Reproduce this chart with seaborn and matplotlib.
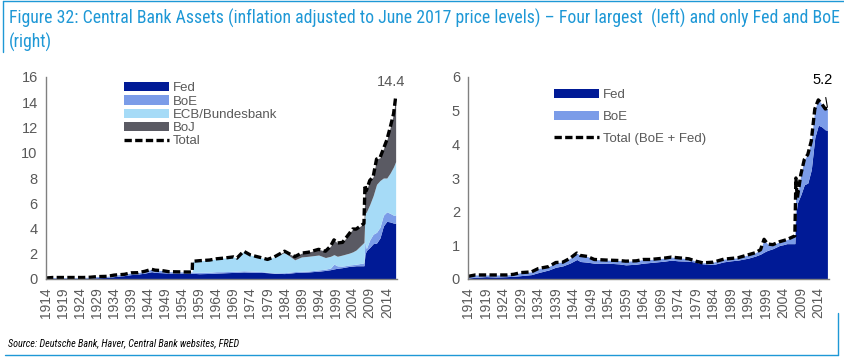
import matplotlib
matplotlib.use("Agg")
import matplotlib.pyplot as plt
import seaborn as sns
import pandas as pd
from matplotlib import font_manager
from matplotlib.lines import Line2D

# data (USD tn, June 2017 prices)
years = [1914, 1916, 1919, 1922, 1925, 1927, 1929, 1932, 1934, 1937,
         1939, 1941, 1943, 1945, 1946, 1948, 1950, 1954, 1956.9, 1957,
         1959, 1962, 1964, 1966, 1969, 1970, 1972, 1974, 1977, 1979,
         1981, 1984, 1987, 1989, 1991, 1994, 1996, 1997.5, 1998.5, 1999.5,
         2001, 2003, 2004, 2005, 2007.3, 2007.6, 2008, 2009, 2010, 2011,
         2012, 2013, 2014, 2015, 2016, 2016.6]

fed = [0.03, 0.05, 0.07, 0.06, 0.07, 0.08, 0.10, 0.13, 0.19, 0.27,
       0.35, 0.39, 0.47, 0.58, 0.52, 0.50, 0.47, 0.47, 0.45, 0.45,
       0.42, 0.44, 0.47, 0.49, 0.52, 0.53, 0.56, 0.54, 0.53, 0.50,
       0.45, 0.43, 0.51, 0.54, 0.56, 0.62, 0.68, 0.74, 0.80, 0.85,
       0.90, 1.00, 1.02, 1.05, 1.05, 1.95, 2.25, 2.50, 2.80, 2.85,
       3.25, 4.20, 4.57, 4.52, 4.43, 4.42]

boe = [0.05, 0.07, 0.05, 0.06, 0.05, 0.06, 0.09, 0.08, 0.12, 0.10,
       0.14, 0.11, 0.14, 0.19, 0.18, 0.17, 0.11, 0.09, 0.10, 0.10,
       0.11, 0.10, 0.11, 0.09, 0.09, 0.09, 0.09, 0.09, 0.07, 0.03,
       0.03, 0.07, 0.08, 0.07, 0.07, 0.10, 0.10, 0.13, 0.38, 0.19,
       0.12, 0.11, 0.12, 0.12, 0.23, 1.05, 0.15, 0.60, 0.75, 0.85,
       0.85, 0.85, 0.75, 0.68, 0.62, 0.65]

ecb = [0.0] * 19 + [
    0.85, 0.92, 0.96, 1.02, 1.07, 1.14, 1.03, 1.55, 1.27, 1.10,
    1.02, 1.27, 1.60, 0.93, 1.14, 1.17, 1.18, 0.92, 0.93, 0.75,
    0.76, 0.88, 0.94, 1.01, 1.13, 1.62, 2.20, 2.90, 2.80, 3.05,
    3.80, 3.70, 2.95, 2.68, 3.20, 3.85, 4.23]

boj = [0.0] * 31 + [
    0.10, 0.25, 0.30, 0.32, 0.45, 0.50, 0.80, 1.17, 1.05, 1.00,
    1.55, 1.81, 1.65, 1.50, 2.25, 1.70, 1.90, 1.50, 2.00, 1.80,
    2.30, 3.00, 3.60, 4.20, 5.10]

xticks = list(range(1914, 2015, 5))

df = pd.DataFrame({"year": years, "Fed": fed, "BoE": boe,
                   "ECB/Bundesbank": ecb, "BoJ": boj})
df["Total"] = df[["Fed", "BoE", "ECB/Bundesbank", "BoJ"]].sum(axis=1)
df["Total2"] = df["Fed"] + df["BoE"]

C_FED = "#001a96"
C_BOE = "#7b9ce8"
C_ECB = "#a6dbf7"
C_BOJ = "#5a5a63"
C_TXT = "#595959"
C_BLUE = "#1e98d6"
DASH = (0, (2.2, 1.0))

sns.set_style("white")
installed = {f.name for f in font_manager.fontManager.ttflist}
narrow = "Liberation Sans"
for cand in ["Liberation Sans Narrow", "Arial Narrow", "Roboto Condensed",
             "DejaVu Sans Condensed", "Open Sans Condensed"]:
    if cand in installed:
        narrow = cand
        break
plt.rcParams["font.family"] = ["Liberation Sans", "DejaVu Sans"]

fig = plt.figure(figsize=(8.44, 3.59), dpi=100)
W, H = 844, 359


def style_axis(ax, ymax, step):
    ax.set_xlim(1914, 2017)
    ax.set_ylim(0, ymax)
    ax.set_xticks(xticks)
    ax.set_xticklabels([str(y) for y in xticks], rotation=90)
    ax.set_yticks(range(0, ymax + 1, step))
    for s in ["top", "right"]:
        ax.spines[s].set_visible(False)
    for s in ["left", "bottom"]:
        ax.spines[s].set_color("#808080")
        ax.spines[s].set_linewidth(1.0)
    ax.tick_params(axis="both", direction="out", length=4, width=1,
                   color="#808080", labelcolor=C_TXT, pad=2)
    ax.tick_params(axis="x", labelsize=10)
    ax.tick_params(axis="y", labelsize=10.5)
    ax.set_xlabel("")
    ax.set_ylabel("")


# left panel: four largest
ax1 = fig.add_axes([46 / W, 1 - 279 / H, 351 / W, 202 / H])
ax1.stackplot(df["year"], df["Fed"], df["BoE"], df["ECB/Bundesbank"], df["BoJ"],
              colors=[C_FED, C_BOE, C_ECB, C_BOJ], linewidth=0,
              labels=["Fed", "BoE", "ECB/Bundesbank", "BoJ"])
sns.lineplot(data=df, x="year", y="Total", ax=ax1, color="black",
             linewidth=2.4, linestyle=DASH, label="Total")
style_axis(ax1, 16, 2)
ax1.text(2015.3, 15.6, "14.4", ha="center", va="center", fontsize=10.5, color=C_TXT)
ax1.legend(loc="upper left", bbox_to_anchor=(0.222, 0.975), frameon=False,
           fontsize=9.5, handlelength=3.4, handletextpad=0.3, labelspacing=0.08,
           borderpad=0, borderaxespad=0, labelcolor=C_TXT)

# right panel: Fed and BoE only
ax2 = fig.add_axes([468.3 / W, 1 - 279 / H, 360.5 / W, 202 / H])
ax2.stackplot(df["year"], df["Fed"], df["BoE"], colors=[C_FED, C_BOE],
              linewidth=0, labels=["Fed", "BoE"])
sns.lineplot(data=df, x="year", y="Total2", ax=ax2, color="black",
             linewidth=2.4, linestyle=DASH, label="Total (BoE + Fed)")
style_axis(ax2, 6, 1)
ax2.annotate("5.2", xy=(2016.6, 5.1), xytext=(2015.3, 5.9), ha="center", va="center",
             fontsize=10.5, color="black",
             arrowprops=dict(arrowstyle="-", color="black", lw=0.8,
                             shrinkA=5, shrinkB=0))
ax2.legend(loc="upper left", bbox_to_anchor=(0.238, 0.94), frameon=False,
           fontsize=9.5, handlelength=3.4, handletextpad=0.3, labelspacing=0.72,
           borderpad=0, borderaxespad=0, labelcolor=C_TXT)

# title, fitted to the width of the original line
line1 = ("Figure 32: Central Bank Assets (inflation adjusted to June 2017 price levels) "
         "\u2013 Four largest  (left) and only Fed and BoE")
t1 = fig.text(9 / W, 1 - 18 / H, line1, fontsize=11, color=C_BLUE, family=narrow,
              ha="left", va="center")
fig.canvas.draw()
w = t1.get_window_extent().width
t1.set_fontsize(11 * 826 / w)
fig.text(9 / W, 1 - 42 / H, "(right)", fontsize=t1.get_fontsize(), color=C_BLUE,
         family=narrow, ha="left", va="center")

src = fig.text(8 / W, 1 - 343 / H, "Source: Deutsche Bank, Haver, Central Bank websites, FRED",
               fontsize=7, style="italic", family=narrow, color="black",
               ha="left", va="center")
fig.canvas.draw()
src.set_fontsize(7 * 232 / src.get_window_extent().width)

# frame lines of the original exhibit
blue_line = dict(color=C_BLUE, linewidth=1.0, transform=fig.transFigure)
fig.add_artist(Line2D([3 / W, 1], [1 - 1 / H, 1 - 1 / H], **blue_line))
fig.add_artist(Line2D([3 / W, 3 / W], [1 - 1 / H, 1 - 52 / H], **blue_line))
fig.add_artist(Line2D([5 / W, 838 / W], [1 - 355 / H, 1 - 355 / H], **blue_line))
fig.add_artist(Line2D([838 / W, 838 / W], [1 - 313 / H, 1 - 355 / H], **blue_line))

fig.savefig("out.png", dpi=100)
